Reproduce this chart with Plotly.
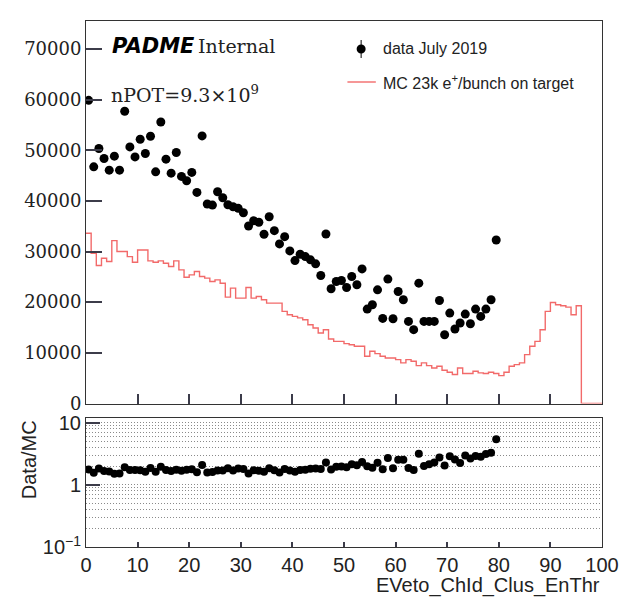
import numpy as np
import plotly.graph_objects as go

# ---- binning: 100 bins of width 1 on [0, 100] ----
bin_edges = list(range(0, 101))

# data counts per bin (bins 0..79)
data_counts = [
    59840, 46710, 50330, 48360, 46060, 48820, 46060, 57680, 50650, 48680,
    52170, 49350, 52760, 45730, 55570, 48230, 45470, 49550, 44820, 43960,
    45610, 41670, 52820, 39370, 39170, 41790, 40610, 39240, 38840, 38520,
    37660, 35040, 36080, 35770, 33400, 36870, 34110, 31500, 32930, 30120,
    28210, 29470, 29000, 28350, 27560, 25260, 33460, 22640, 24080, 24270,
    22900, 25060, 23430, 26570, 18640, 19490, 22440, 16790, 24550, 16730,
    22110, 20470, 16200, 14570, 23760, 16200, 16200, 16200, 20340, 13580,
    17850, 14700, 15880, 17650, 15750, 18640, 17190, 18640, 20470, 32280,
]

# MC prediction per bin (bins 0..99)
mc_counts = [
    33600, 29660, 27230, 28680, 28020, 32150, 29990, 29990, 29000, 27890,
    30310, 30310, 28150, 27890, 28150, 27690, 27030, 28150, 26380, 24930,
    25390, 26050, 25060, 24740, 24080, 24410, 23750, 21000, 22770, 20800,
    20800, 22900, 20800, 21130, 20470, 19820, 19820, 19820, 18180, 17520,
    17190, 16900, 16540, 15550, 14890, 13910, 14570, 12730, 12270, 12270,
    11810, 11610, 11290, 11290, 9320, 10300, 9840, 9320, 8990, 8990,
    8660, 8010, 8660, 8330, 7480, 8010, 7480, 7020, 7350, 6560,
    6170, 5710, 7020, 5910, 5910, 6370, 6040, 5910, 6170, 5910,
    5510, 6170, 7350, 7680, 8010, 9650, 11290, 12270, 14570, 18180,
    19950, 19490, 19290, 19030, 17520, 19290, 0, 0, 0, 0,
]

y_major_ticks = [0, 10000, 20000, 30000, 40000, 50000, 60000, 70000]
y_major_text = ["0", "10000", "20000", "30000", "40000", "50000", "60000", "70000"]
ratio_tickvals = [0.1, 1, 10]
ratio_ticktext = ["10<sup>\u22121</sup>", "1", "10"]
ratio_minor = [0.2, 0.3, 0.4, 0.5, 0.6, 0.7, 0.8, 0.9, 2, 3, 4, 5, 6, 7, 8, 9]

data = np.array(data_counts, dtype=float)
mc = np.array(mc_counts, dtype=float)
edges = np.array(bin_edges, dtype=float)
centers = edges[:-1] + 0.5
xd = centers[: len(data)]
data_err = np.sqrt(data)
ratio = data / mc[: len(data)]
ratio_err = ratio * np.sqrt(1.0 / data + 1.0 / mc[: len(data)])

# ---- page geometry (pixels) ----
W, H = 631, 598
L, R, T, B = 86, 18, 21, 51
PW = W - L - R
PH = H - T - B
top_lo_px, bot_hi_px = 403.5, 418.0


def xp(px):
    return (px - L) / PW


def yp(py):
    return (H - B - py) / PH


RED = "#f26a6a"
AX = "#333333"
TK = "#3c3c4a"
GRID = "#8a8a8a"
SERIF = "DejaVu Serif"
SANS = "Liberation Sans"

fig = go.Figure()

# MC histogram as a step line
fig.add_trace(go.Scatter(
    x=edges, y=np.append(mc, mc[-1]), mode="lines", line_shape="hv",
    line=dict(color=RED, width=1.4), xaxis="x", yaxis="y", showlegend=False,
    hoverinfo="skip",
))

# data points
fig.add_trace(go.Scatter(
    x=xd, y=data, mode="markers",
    marker=dict(color="black", size=9, symbol="circle"),
    error_y=dict(type="data", array=data_err, color="black", thickness=1, width=0),
    xaxis="x", yaxis="y", showlegend=False,
))

# data / MC ratio
fig.add_trace(go.Scatter(
    x=xd, y=ratio, mode="markers",
    marker=dict(color="black", size=8, symbol="circle"),
    error_y=dict(type="data", array=ratio_err, color="black", thickness=1, width=0),
    xaxis="x2", yaxis="y2", showlegend=False,
))

fig.update_layout(
    width=W, height=H,
    margin=dict(l=L, r=R, t=T, b=B),
    paper_bgcolor="white", plot_bgcolor="white",
    showlegend=False,
    xaxis=dict(
        domain=[0, 1], range=[0, 100], anchor="y", dtick=10, ticklen=10,
        showticklabels=False, showline=True, linecolor=AX, mirror=True,
        ticks="inside", tickcolor=TK, tickwidth=2, zeroline=False, showgrid=False,
    ),
    yaxis=dict(
        domain=[yp(top_lo_px), 1], range=[0, 75500], anchor="x",
        tickvals=y_major_ticks, ticktext=y_major_text, ticklen=16,
        tickfont=dict(family=SERIF, size=18, color="#222"),
        showline=True, linecolor=AX, mirror=True,
        ticks="inside", tickcolor=TK, tickwidth=2,
        zeroline=False, showgrid=False,
    ),
    xaxis2=dict(
        domain=[0, 1], range=[0, 100], anchor="y2", dtick=10, ticklen=5,
        tickfont=dict(family=SANS, size=20, color="#222"),
        showline=True, linecolor=AX, mirror=True,
        ticks="inside", tickcolor=TK, tickwidth=2, zeroline=False, showgrid=False,
    ),
    yaxis2=dict(
        type="log", domain=[0, yp(bot_hi_px)], range=[-1, 1.08], anchor="x2",
        tickvals=ratio_tickvals, ticktext=ratio_ticktext, ticklen=14,
        tickfont=dict(family=SANS, size=20, color="#222"),
        showline=True, linecolor=AX, linewidth=1, mirror=True,
        ticks="inside", tickcolor=TK, tickwidth=2, zeroline=False,
        showgrid=True, gridcolor=GRID, griddash="1px,2px", gridwidth=1,
        minor=dict(tickvals=ratio_minor, ticks="",
                   showgrid=True, gridcolor=GRID, griddash="1px,2px", gridwidth=1),
    ),
)

annotations = [
    dict(x=xp(111), y=yp(46), text="<b><i>PADME</i></b>", showarrow=False,
         xanchor="left", yanchor="middle",
         font=dict(family="DejaVu Sans", size=21, color="black")),
    dict(x=xp(198), y=yp(46), text="Internal", showarrow=False,
         xanchor="left", yanchor="middle",
         font=dict(family=SERIF, size=19, color="#222")),
    dict(x=xp(110), y=yp(94), text="nPOT=9.3\u00d710<sup>9</sup>", showarrow=False,
         xanchor="left", yanchor="middle",
         font=dict(family=SERIF, size=19, color="#222")),
    dict(x=xp(387), y=yp(48), text="data July 2019", showarrow=False,
         xanchor="left", yanchor="middle",
         font=dict(family=SANS, size=16, color="#222")),
    dict(x=xp(387), y=yp(82), text="MC 23k e<sup>+</sup>/bunch on target",
         showarrow=False, xanchor="left", yanchor="middle",
         font=dict(family=SANS, size=16, color="#222")),
    dict(x=1, y=yp(585), text="EVeto_ChId_Clus_EnThr", showarrow=False,
         xanchor="right", yanchor="middle",
         font=dict(family=SANS, size=20, color="#222")),
    dict(x=xp(28), y=yp(460), text="Data/MC", showarrow=False, textangle=-90,
         xanchor="center", yanchor="middle",
         font=dict(family=SANS, size=20, color="#222")),
]
for a in annotations:
    a.update(xref="paper", yref="paper")
fig.update_layout(annotations=annotations)

# legend symbols
fig.add_shape(type="line", xref="paper", yref="paper",
              x0=xp(367), x1=xp(367), y0=yp(40), y1=yp(58),
              line=dict(color="black", width=1))
fig.add_shape(type="circle", xref="paper", yref="paper",
              xsizemode="pixel", ysizemode="pixel",
              xanchor=xp(367), yanchor=yp(49), x0=-4.5, x1=4.5, y0=-4.5, y1=4.5,
              fillcolor="black", line=dict(color="black", width=0))
fig.add_shape(type="line", xref="paper", yref="paper",
              x0=xp(353), x1=xp(382), y0=yp(82), y1=yp(82),
              line=dict(color=RED, width=1.4))

fig.write_html("out.html")
